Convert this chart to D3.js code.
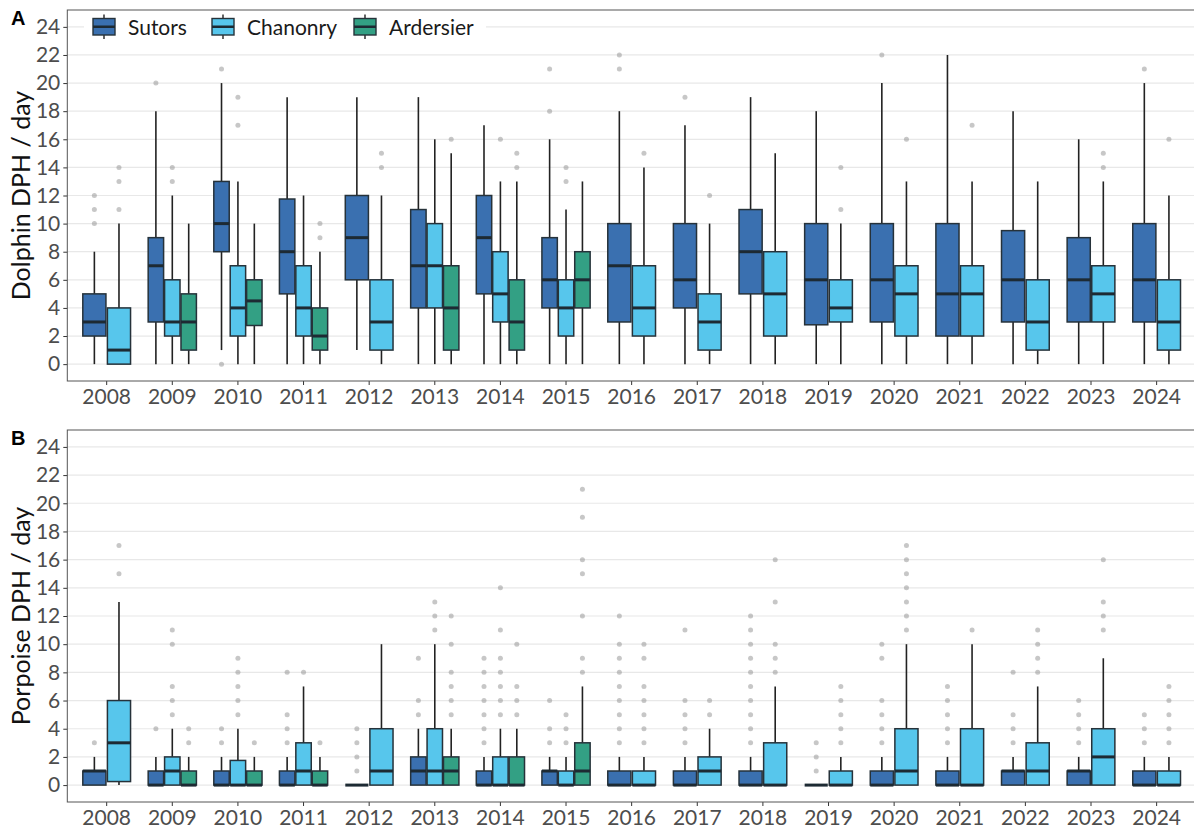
<!DOCTYPE html>
<html>
<head>
<meta charset="utf-8">
<script src="https://cdn.jsdelivr.net/npm/d3@7"></script>
<style>
  html, body { margin: 0; padding: 0; background: #fff; }
  svg { display: block; font-family: Lato, "Open Sans", sans-serif; }
</style>
</head>
<body>
<svg id="chart" width="1194" height="832"></svg>
<script>
// Years on the x axis
const years = ["2008","2009","2010","2011","2012","2013","2014","2015","2016",
               "2017","2018","2019","2020","2021","2022","2023","2024"];
const sites = ["Sutors", "Chanonry", "Ardersier"];
const siteColors = ["#3a70b0", "#57c6ec", "#33a084"];
const yTicks = [0,2,4,6,8,10,12,14,16,18,20,22,24];

// Box summaries: [lower whisker, Q1, median, Q3, upper whisker]; null = no data that year
// Dolphin detection positive hours per day
const dolphinSutors = [
  [0,2,3,5,8],[0,3,7,9,18],[1,8,10,13,20],[0,5,8,11.75,19],[1,6,9,12,19],
  [0,4,7,11,19],[0,5,9,12,17],[0,4,6,9,16],[0,3,7,10,18],[0,4,6,10,17],
  [0,5,8,11,19],[0,2.8,6,10,18],[0,3,6,10,20],[0,2,5,10,22],[0,3,6,9.5,18],
  [0,3,6,9,16],[0,3,6,10,20]
];
const dolphinChanonry = [
  [0,0,1,4,10],[0,2,3,6,12],[0,2,4,7,13],[0,2,4,7,12],[0,1,3,6,12],
  [0,4,7,10,16],[0,3,5,8,13],[0,2,4,6,11],[0,2,4,7,14],[0,1,3,5,10],
  [0,2,5,8,15],[0,3,4,6,10],[0,2,5,7,13],[0,2,5,7,13],[0,1,3,6,13],
  [0,3,5,7,13],[0,1,3,6,12]
];
const dolphinArdersier = [
  null,[0,1,3,5,10],[0,2.75,4.5,6,10],[0,1,2,4,8],null,
  [0,1,4,7,15],[0,1,3,6,13],[0,4,6,8,13],null,null,
  null,null,null,null,null,null,null
];
// Dolphin outliers
const dolphinSutorsOut = [
  [10,11,12],[20],[0,21],[],[],[],[],[18,21],[21,22],[19],
  [],[],[22],[],[],[],[21]
];
const dolphinChanonryOut = [
  [11,13,14],[13,14],[17,19],[],[14,15],[],[16],[13,14],[15],[12],
  [],[11,14],[16],[17],[],[14,15],[16]
];
const dolphinArdersierOut = [
  [],[],[],[9,10],[],[16],[14,15],[],[],[],[],[],[],[],[],[],[]
];

// Porpoise detection positive hours per day
const porpoiseSutors = [
  [0,0,1,1,2],[0,0,0,1,2],[0,0,0,1,2],[0,0,0,1,2],[0,0,0,0,0],
  [0,0,1,2,4],[0,0,0,1,2],[0,0,1,1,2],[0,0,0,1,2],[0,0,0,1,2],
  [0,0,0,1,2],[0,0,0,0,0],[0,0,0,1,2],[0,0,0,1,2],[0,0,1,1,2],
  [0,0,1,1,2],[0,0,0,1,2]
];
const porpoiseChanonry = [
  [0,0.25,3,6,13],[0,0,1,2,4],[0,0,0,1.75,4],[0,0,1,3,7],[0,0,1,4,10],
  [0,0,1,4,10],[0,0,0,2,4],[0,0,0,1,2],[0,0,0,1,2],[0,0,1,2,4],
  [0,0,0,3,7],[0,0,0,1,2],[0,0,1,4,10],[0,0,0,4,10],[0,0,1,3,7],
  [0,0,2,4,9],[0,0,0,1,2]
];
const porpoiseArdersier = [
  null,[0,0,0,1,2],[0,0,0,1,2],[0,0,0,1,2],null,
  [0,0,1,2,4],[0,0,0,2,4],[0,0,1,3,7],null,null,
  null,null,null,null,null,null,null
];
// Porpoise outliers
const porpoiseSutorsOut = [
  [3],[4],[3,4],[3,4,5,8],[1,2,3,4],[5,6,9],[3,4,5,6,7,8,9],[3,4,6],
  [3,4,5,6,7,8,9,10,12],[3,4,5,6,11],[3,4,5,6,7,8,9,10,11,12],[1,2,3],
  [3,4,5,6,9,10],[3,4,5,6,7],[3,4,5,8],[3,4,5,6],[3,4,5]
];
const porpoiseChanonryOut = [
  [15,17],[5,6,7,10,11],[5,6,7,8,9],[8],[],[11,12,13],[5,6,7,8,9,11,14],[3,4,5],
  [3,4,5,6,7,9,10],[5,6],[8,9,10,13,16],[3,4,5,6,7],
  [11,12,13,14,15,16,17],[11],[8,9,10,11],[11,12,13,16],[3,4,5,6,7]
];
const porpoiseArdersierOut = [
  [],[3,4],[3],[3],[],[5,6,7,8,10,12],[5,6,7,10],[8,9,12,15,16,19,21],
  [],[],[],[],[],[],[],[],[]
];

const panels = [
  { letter: "A", title: "Dolphin DPH / day", top: 10, bottom: 381,
    stats: [dolphinSutors, dolphinChanonry, dolphinArdersier],
    outs: [dolphinSutorsOut, dolphinChanonryOut, dolphinArdersierOut], legend: true },
  { letter: "B", title: "Porpoise DPH / day", top: 430, bottom: 802,
    stats: [porpoiseSutors, porpoiseChanonry, porpoiseArdersier],
    outs: [porpoiseSutorsOut, porpoiseChanonryOut, porpoiseArdersierOut], legend: false }
];

const svg = d3.select("#chart");
const left = 67.3, right = 1196;

const x = d3.scaleBand().domain(years).range([left, right])
  .paddingInner(0).paddingOuter(0.1);
const dodgeWidth = 0.75 * x.step();
const boxStroke = "#26323a";

panels.forEach(p => {
  const y = d3.scaleLinear().domain([-1.2, 25.2]).range([p.bottom, p.top]);
  const g = svg.append("g");

  // horizontal gridlines
  g.append("g").selectAll("line").data(yTicks).join("line")
    .attr("x1", left).attr("x2", right)
    .attr("y1", d => y(d)).attr("y2", d => y(d))
    .attr("stroke", "#e8e8e8").attr("stroke-width", 1.2);

  // y axis
  const yAxis = d3.axisLeft(y).tickValues(yTicks).tickSize(4).tickPadding(3);
  const ya = g.append("g").attr("transform", `translate(${left},0)`).call(yAxis);
  ya.select(".domain").remove();
  ya.selectAll(".tick line").attr("stroke", "#333");
  ya.selectAll(".tick text").attr("fill", "#4d4d4d").attr("font-size", 21)
    .attr("font-family", "Lato, sans-serif");

  // x axis
  const xAxis = d3.axisBottom(x).tickSize(4).tickPadding(4);
  const xa = g.append("g").attr("transform", `translate(0,${p.bottom})`).call(xAxis);
  xa.select(".domain").remove();
  xa.selectAll(".tick line").attr("stroke", "#333");
  xa.selectAll(".tick text").attr("fill", "#4d4d4d").attr("font-size", 21)
    .attr("font-family", "Lato, sans-serif");

  // boxes, dodged within each year
  years.forEach((yr, i) => {
    const present = [0,1,2].filter(s => p.stats[s][i] !== null);
    const slot = dodgeWidth / present.length;
    const bw = slot * 0.94;
    const c0 = x(yr) + x.bandwidth() / 2 - dodgeWidth / 2;
    present.forEach((s, k) => {
      const [lo, q1, med, q3, hi] = p.stats[s][i];
      const cx = c0 + slot * (k + 0.5);
      const bg = g.append("g");
      // outliers
      bg.selectAll("circle").data(p.outs[s][i]).join("circle")
        .attr("cx", cx).attr("cy", d => y(d)).attr("r", 2.5)
        .attr("fill", "#8f8f8f").attr("fill-opacity", 0.5);
      // whiskers
      bg.append("line").attr("x1", cx).attr("x2", cx)
        .attr("y1", y(hi)).attr("y2", y(q3))
        .attr("stroke", "#222").attr("stroke-width", 1.6);
      bg.append("line").attr("x1", cx).attr("x2", cx)
        .attr("y1", y(q1)).attr("y2", y(lo))
        .attr("stroke", "#222").attr("stroke-width", 1.6);
      // box
      bg.append("rect")
        .attr("x", cx - bw / 2).attr("width", bw)
        .attr("y", y(q3)).attr("height", Math.max(0, y(q1) - y(q3)))
        .attr("fill", siteColors[s]).attr("stroke", boxStroke).attr("stroke-width", 1.5);
      // median
      bg.append("line").attr("x1", cx - bw / 2).attr("x2", cx + bw / 2)
        .attr("y1", y(med)).attr("y2", y(med))
        .attr("stroke", "#1d2a33").attr("stroke-width", 3);
    });
  });

  // panel border
  g.append("rect").attr("x", left).attr("y", p.top)
    .attr("width", right - left).attr("height", p.bottom - p.top)
    .attr("fill", "none").attr("stroke", "#555").attr("stroke-width", 1);

  // y axis title
  g.append("text")
    .attr("transform", `translate(30,${(p.top + p.bottom) / 2}) rotate(-90)`)
    .attr("text-anchor", "middle").attr("font-size", 25).attr("fill", "#111")
    .attr("font-family", "Lato, sans-serif")
    .text(p.title);

  // panel tag
  g.append("text").attr("x", 11).attr("y", p.top + 15)
    .attr("font-size", 20).attr("font-weight", "bold")
    .attr("font-family", "Liberation Sans, Arial, sans-serif").attr("fill", "#000")
    .text(p.letter);

  if (p.legend) {
    const lg = g.append("g");
    lg.append("rect").attr("x", 84).attr("y", 11).attr("width", 402).attr("height", 32)
      .attr("fill", "#fff");
    const keyX = [93, 212, 354];
    const keyTop = 18.5, keyBot = 35, keyW = 22;
    sites.forEach((name, s) => {
      const kx = keyX[s], kc = kx + keyW / 2;
      lg.append("line").attr("x1", kc).attr("x2", kc).attr("y1", keyTop - 4).attr("y2", keyBot + 4)
        .attr("stroke", "#222").attr("stroke-width", 1.4);
      lg.append("rect").attr("x", kx).attr("y", keyTop).attr("width", keyW).attr("height", keyBot - keyTop)
        .attr("fill", siteColors[s]).attr("stroke", boxStroke).attr("stroke-width", 1.4);
      lg.append("line").attr("x1", kx).attr("x2", kx + keyW)
        .attr("y1", (keyTop + keyBot) / 2).attr("y2", (keyTop + keyBot) / 2)
        .attr("stroke", "#1d2a33").attr("stroke-width", 2.5);
      lg.append("text").attr("x", kx + 35).attr("y", 34.5)
        .attr("font-size", 21).attr("fill", "#1a1a1a")
        .attr("font-family", "Lato, sans-serif").text(name);
    });
  }
});
</script>
</body>
</html>
